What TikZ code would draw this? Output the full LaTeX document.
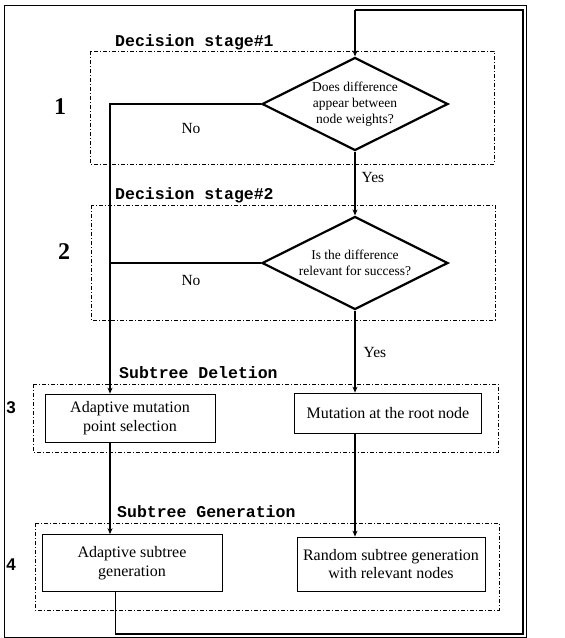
\documentclass[tikz,border=0pt]{standalone}
\usepackage{fontspec}
\setmainfont{Liberation Serif}
\newfontfamily\monofont{Liberation Mono}
\newfontfamily\labelsans{Liberation Sans}
\usetikzlibrary{shapes.geometric,arrows.meta,positioning}

\tikzset{
  stagebox/.style={draw, line width=0.8pt, dash pattern=on 4pt off 2pt on 1pt off 2pt},
  decision/.style={diamond, draw, line width=2.2pt, minimum width=186pt, minimum height=93pt,
    inner sep=-16pt, align=center, font=\fontsize{13.5}{16}\selectfont},
  process/.style={draw, line width=0.7pt, align=center, inner sep=2pt,
    font=\fontsize{16}{18.5}\selectfont},
  stagetitle/.style={anchor=west, inner sep=0pt, font=\monofont\bfseries\fontsize{16.5}{18}\selectfont},
  stagenum/.style={inner sep=0pt, font=\bfseries\fontsize{24}{26}\selectfont},
  stagenumsans/.style={inner sep=0pt, font=\labelsans\bfseries\fontsize{17}{19}\selectfont},
  answer/.style={inner sep=0pt, font=\fontsize{15.5}{18}\selectfont},
  flow/.style={line width=1.6pt, -{Stealth[length=6pt,width=5pt]}},
  feedback/.style={line width=1.8pt},
}

\begin{document}
\begin{tikzpicture}[x=1pt,y=-1pt]
  \useasboundingbox (0,0) rectangle (565,638);
  \draw[line width=0.7pt] (4,5) rectangle (526,637);

  % stage frames
  \draw[stagebox] (90,51) rectangle (494,164);
  \draw[stagebox] (91,205) rectangle (495,320);
  \draw[stagebox] (33,384) rectangle (498,452);
  \draw[stagebox] (35,523) rectangle (499,610);

  \node (title1) at (115,42) [stagetitle] {Decision stage\#1};
  \node (title2) at (115,195) [stagetitle] {Decision stage\#2};
  \node (title3) at (119,373) [stagetitle] {Subtree Deletion};
  \node (title4) at (117,512) [stagetitle] {Subtree Generation};

  \node (num1) at (60,107) [stagenum] {1};
  \node (num2) at (64,252) [stagenum] {2};
  \node (num3) at (11,408) [stagenumsans] {3};
  \node (num4) at (11,565) [stagenumsans] {4};

  % decisions
  \node (dec1) at (355,104) [decision] {Does difference\\appear between\\node weights?};
  \node (dec2) at (355,263) [decision] {Is the difference\\relevant for success?};

  % operations
  \node (adapt) at (130,418) [process, minimum width=170pt, minimum height=48pt] {Adaptive mutation\\point selection};
  \node (rootmut) at (388,413) [process, minimum width=187pt, minimum height=40pt] {Mutation at the root node};
  \node (adaptgen) at (132,563) [process, minimum width=180pt, minimum height=57pt] {Adaptive subtree\\generation};
  \node (randgen) at (391,564) [process, minimum width=188pt, minimum height=54pt] {Random subtree generation\\with relevant nodes};

  \coordinate (nojoin) at (110,104);
  \coordinate (loopbl) at (115,634);
  \coordinate (loopbr) at (523,634);
  \coordinate (looptr) at (523,10);
  \coordinate (looptl) at (355,10);

  \draw[flow] (dec1.west) -- (nojoin) -- (nojoin |- adapt.north);
  \draw[line width=1.6pt] (dec2.west) -- (dec2.west -| nojoin);
  \draw[flow] (dec1.south) -- (dec2.north);
  \draw[flow] (dec2.south) -- (dec2.south |- rootmut.north);
  \draw[flow] (nojoin |- adapt.south) -- (nojoin |- adaptgen.north);
  \draw[flow] (dec2.south |- rootmut.south) -- (dec2.south |- randgen.north);

  % back to the first decision
  \draw[line width=0.8pt] (loopbl |- adaptgen.south) -- (loopbl);
  \draw[feedback] (loopbl) -- (loopbr) -- (looptr) -- (looptl);
  \draw[flow, line width=1.8pt] (looptl) -- (dec1.north);

  \node (no1) at (191,128) [answer] {No};
  \node (no2) at (191,280) [answer] {No};
  \node (yes1) at (373,177) [answer] {Yes};
  \node (yes2) at (375,352) [answer] {Yes};
\end{tikzpicture}
\end{document}
